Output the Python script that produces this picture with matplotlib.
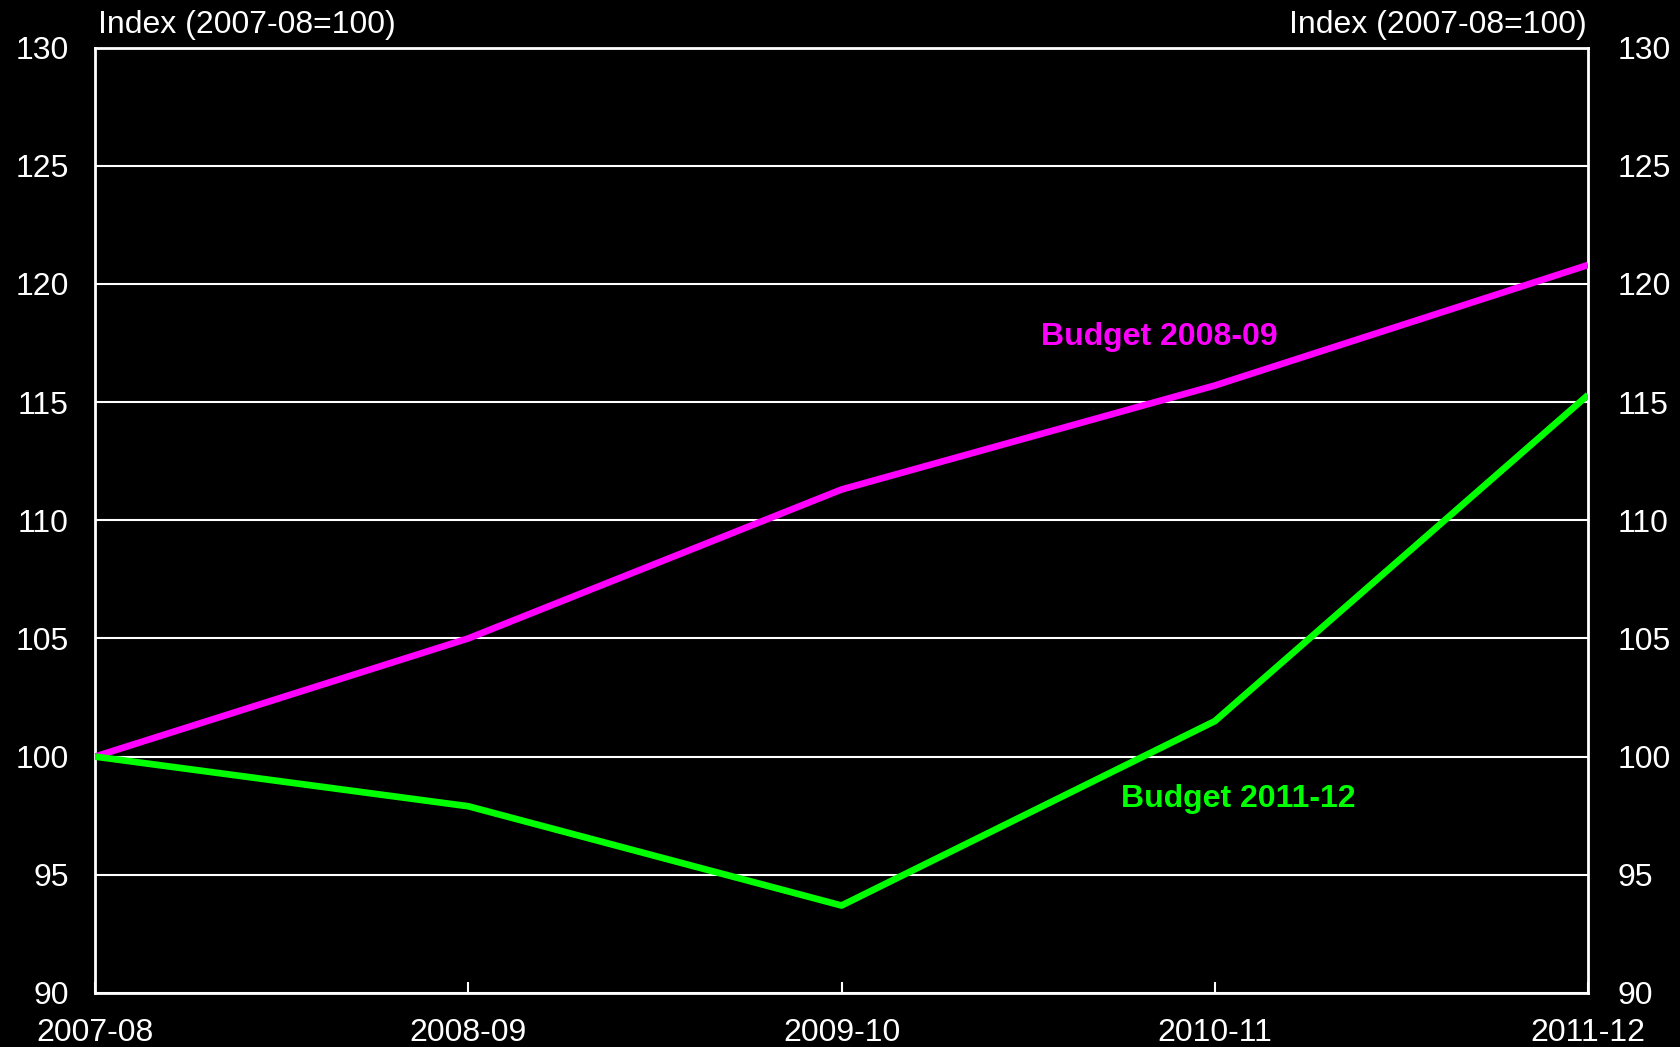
import matplotlib
matplotlib.use("Agg")
import matplotlib.pyplot as plt

years = ["2007-08", "2008-09", "2009-10", "2010-11", "2011-12"]
budget_2008_09 = [100.0, 105.0, 111.3, 115.7, 120.8]
budget_2011_12 = [100.0, 97.9, 93.7, 101.5, 115.3]
y_ticks = [90, 95, 100, 105, 110, 115, 120, 125, 130]
axis_title = "Index (2007-08=100)"

plt.rcParams['font.family'] = ['Liberation Sans', 'DejaVu Sans']

fig = plt.figure(figsize=(16.81, 10.47), dpi=100, facecolor='black')
ax = fig.add_axes([0.0565, 0.0516, 0.9447 - 0.0565, 0.9546 - 0.0516])
ax.set_facecolor('black')

x = list(range(len(years)))
ax.set_ylim(90, 130)
ax.set_xlim(0, len(years) - 1)
ax.set_yticks(y_ticks)
for t in y_ticks:
    ax.axhline(t, color='white', lw=1.5, zorder=1)

ax.plot(x, budget_2008_09, color='#ff00ff', lw=4.8, zorder=3, solid_capstyle='butt')
ax.plot(x, budget_2011_12, color='#00ff00', lw=4.8, zorder=3, solid_capstyle='butt')

for s in ax.spines.values():
    s.set_color('white')
    s.set_linewidth(2)

ax.set_xticks(x)
ax.set_xticklabels(years)
ax.tick_params(axis='x', direction='in', length=8, width=1.5, color='white',
               labelcolor='white', labelsize=23, pad=18)
ax.tick_params(axis='y', left=False, right=False, labelleft=True, labelright=False,
               labelcolor='white', labelsize=23, pad=15.5)

ax2 = ax.twinx()
ax2.set_ylim(ax.get_ylim())
ax2.set_yticks(y_ticks)
ax2.tick_params(axis='y', left=False, right=False, labelleft=False, labelright=True,
                labelcolor='white', labelsize=23, pad=18)
for s in ax2.spines.values():
    s.set_visible(False)

ax.text(0.002, 1.008, axis_title, transform=ax.transAxes, color='white',
        fontsize=23, ha='left', va='bottom')
ax.text(0.999, 1.008, axis_title, transform=ax.transAxes, color='white',
        fontsize=23, ha='right', va='bottom')

ax.text(2.851, 117.75, "Budget 2008-09", color='#ff00ff', fontsize=23,
        fontweight='bold', ha='center', va='center')
ax.text(3.062, 98.2, "Budget 2011-12", color='#00ff00', fontsize=23,
        fontweight='bold', ha='center', va='center')

fig.savefig("out.png", dpi=100, facecolor='black')
